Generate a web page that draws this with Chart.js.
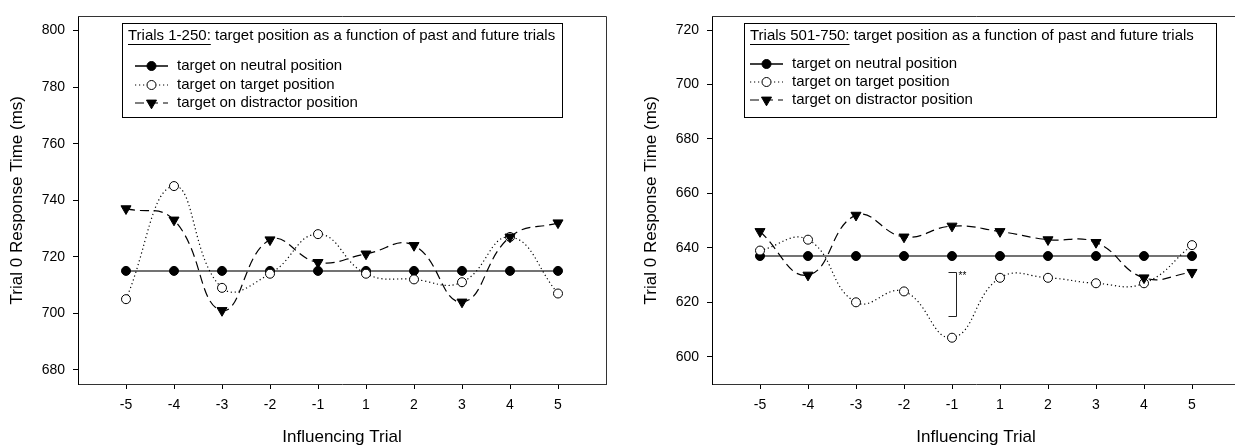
<!DOCTYPE html>
<html>
<head>
<meta charset="utf-8">
<script src="https://cdn.jsdelivr.net/npm/chart.js@4.4.1/dist/chart.umd.min.js"></script>
<style>
  html, body { margin: 0; padding: 0; background: #fff; overflow: hidden; width: 1235px; height: 446px; }
  .panel { position: absolute; top: 0; width: 615px; height: 446px; }
  #left { left: 0; }
  #right { left: 634px; }
</style>
</head>
<body>
<div class="panel" id="left"><canvas id="chartLeft" width="615" height="446"></canvas></div>
<div class="panel" id="right"><canvas id="chartRight" width="615" height="446"></canvas></div>
<script>
// x categories (influencing trial)
const trials = ['-5', '-4', '-3', '-2', '-1', '1', '2', '3', '4', '5'];
const seriesNames = ['target on neutral position', 'target on target position', 'target on distractor position'];

// Trials 1-250
const earlyNeutral = [715, 715, 715, 715, 715, 715, 715, 715, 715, 715];
const earlyTarget = [705, 745, 709, 714, 728, 714, 712, 711, 727, 707];
const earlyDistractor = [737, 733, 701, 726, 718, 721, 724, 704, 727, 732];
const earlyTicks = [680, 700, 720, 740, 760, 780, 800];

// Trials 501-750
const lateNeutral = [637, 637, 637, 637, 637, 637, 637, 637, 637, 637];
const lateTarget = [639, 643, 620, 624, 607, 629, 629, 627, 627, 641];
const lateDistractor = [646, 630, 652, 644, 648, 646, 643, 642, 629, 631];
const lateTicks = [600, 620, 640, 660, 680, 700, 720];

// significance bracket (late panel, at trial -1)
const sigTrial = '-1';
const sigRange = [615, 631];

const FONT = '"Liberation Sans", Arial, Helvetica, sans-serif';

function makeDatasets(neutral, target, distractor) {
    const pts = arr => arr.map((v, i) => ({ x: i, y: v }));
    return [{
        label: seriesNames[0],
        data: pts(neutral),
        borderColor: '#444',
        borderWidth: 1.5,
        pointStyle: 'circle',
        pointRadius: 4.5,
        pointBackgroundColor: '#000',
        pointBorderColor: '#000',
        pointBorderWidth: 1,
        tension: 0,
        order: 3
    }, {
        label: seriesNames[1],
        data: pts(target),
        borderColor: '#000',
        borderWidth: 1.2,
        borderDash: [1.2, 2.8],
        pointStyle: 'circle',
        pointRadius: 4.5,
        pointBackgroundColor: '#fff',
        pointBorderColor: '#000',
        pointBorderWidth: 1,
        tension: 0.45,
        order: 2
    }, {
        label: seriesNames[2],
        data: pts(distractor),
        borderColor: '#000',
        borderWidth: 1.2,
        borderDash: [9, 5],
        pointStyle: 'triangle',
        rotation: 180,
        pointRadius: 5.8,
        pointBackgroundColor: '#000',
        pointBorderColor: '#000',
        pointBorderWidth: 1,
        tension: 0.45,
        order: 1
    }];
}

// top and right edges of the frame
const frameEdges = {
    id: 'frameEdges',
    afterDraw(chart) {
        const { ctx, chartArea } = chart;
        ctx.save();
        ctx.strokeStyle = '#333';
        ctx.lineWidth = 1;
        ctx.beginPath();
        ctx.moveTo(Math.round(chartArea.left), Math.round(chartArea.top) + 0.5);
        ctx.lineTo(Math.round(chartArea.right) + 0.5, Math.round(chartArea.top) + 0.5);
        ctx.lineTo(Math.round(chartArea.right) + 0.5, Math.round(chartArea.bottom));
        ctx.stroke();
        ctx.restore();
    }
};

// boxed legend with underlined title
const legendBox = {
    id: 'legendBox',
    afterDraw(chart, args, opts) {
        const { ctx, chartArea } = chart;
        const x = Math.round(chartArea.left + opts.dx);
        const y = Math.round(chartArea.top + opts.dy);
        ctx.save();
        ctx.fillStyle = '#fff';
        ctx.fillRect(x, y, opts.width, opts.height);
        ctx.strokeStyle = '#000';
        ctx.lineWidth = 1;
        ctx.strokeRect(x + 0.5, y + 0.5, opts.width, opts.height);

        ctx.font = '15px ' + FONT;
        ctx.fillStyle = '#000';
        ctx.textBaseline = 'middle';
        ctx.textAlign = 'left';
        const tx = x + opts.titleX;
        const ty = y + opts.titleY;
        ctx.fillText(opts.titleLead, tx, ty);
        const lw = ctx.measureText(opts.titleLead).width;
        ctx.beginPath();
        ctx.moveTo(tx, Math.round(ty + 8) + 0.5);
        ctx.lineTo(tx + lw, Math.round(ty + 8) + 0.5);
        ctx.stroke();
        ctx.fillText(' ' + opts.titleRest, tx + lw, ty);

        chart.data.datasets.forEach((ds, i) => {
            const ry = y + opts.rowY[i];
            ctx.save();
            ctx.strokeStyle = i === 0 ? '#000' : ds.borderColor;
            ctx.lineWidth = ds.borderWidth;
            ctx.setLineDash(ds.borderDash || []);
            ctx.beginPath();
            ctx.moveTo(x + opts.lineFrom, ry);
            ctx.lineTo(x + opts.lineTo, ry);
            ctx.stroke();
            ctx.restore();
            ctx.save();
            ctx.fillStyle = ds.pointBackgroundColor;
            ctx.strokeStyle = ds.pointBorderColor;
            ctx.lineWidth = ds.pointBorderWidth;
            Chart.helpers.drawPoint(ctx, {
                pointStyle: ds.pointStyle,
                rotation: ds.rotation || 0,
                radius: ds.pointRadius,
                borderWidth: ds.pointBorderWidth
            }, x + (opts.lineFrom + opts.lineTo) / 2, ry);
            ctx.restore();
            ctx.fillStyle = '#000';
            ctx.fillText(ds.label, x + opts.textX, ry);
        });
        ctx.restore();
    }
};

// significance bracket
const sigMark = {
    id: 'sigMark',
    afterDatasetsDraw(chart, args, opts) {
        if (!opts.show) return;
        const { ctx, scales } = chart;
        const bx = Math.round(scales.x.getPixelForValue(trials.indexOf(sigTrial)) + 4) + 0.5;
        const yTop = Math.round(scales.y.getPixelForValue(sigRange[1])) + 0.5;
        const yBot = Math.round(scales.y.getPixelForValue(sigRange[0])) + 0.5;
        ctx.save();
        ctx.strokeStyle = '#222';
        ctx.lineWidth = 1;
        ctx.beginPath();
        ctx.moveTo(bx - 8, yTop);
        ctx.lineTo(bx, yTop);
        ctx.lineTo(bx, yBot);
        ctx.lineTo(bx - 8, yBot);
        ctx.stroke();
        ctx.fillStyle = '#000';
        ctx.font = '10px ' + FONT;
        ctx.textBaseline = 'middle';
        ctx.fillText('**', bx + 2, yTop + 4);
        ctx.restore();
    }
};

function makeChart(canvasId, datasets, yMin, yMax, yTicks, legendOpts, showSig) {
    return new Chart(document.getElementById(canvasId), {
        type: 'line',
        data: { datasets },
        options: {
            responsive: false,
            animation: false,
            layout: { padding: { top: 14, right: 9, left: 0, bottom: 0 } },
            plugins: {
                legend: { display: false },
                tooltip: { enabled: false },
                legendBox: legendOpts,
                sigMark: { show: showSig }
            },
            scales: {
                x: {
                    type: 'linear',
                    min: -1,
                    max: trials.length,
                    afterBuildTicks: s => { s.ticks = trials.map((t, i) => ({ value: i })); },
                    afterFit: s => { s.height = 62; },
                    grid: { drawOnChartArea: false, drawTicks: true, tickLength: 5, color: '#000' },
                    border: { display: true, color: '#333', width: 1 },
                    ticks: {
                        padding: 8,
                        color: '#000',
                        font: { family: FONT, size: 14 },
                        callback: v => trials[v]
                    },
                    title: {
                        display: true,
                        text: 'Influencing Trial',
                        color: '#000',
                        font: { family: FONT, size: 17, lineHeight: 1 },
                        padding: { top: 0, bottom: 0 }
                    }
                },
                y: {
                    min: yMin,
                    max: yMax,
                    afterBuildTicks: s => { s.ticks = yTicks.map(v => ({ value: v })); },
                    afterFit: s => { s.width = 78; },
                    grid: { drawOnChartArea: false, drawTicks: true, tickLength: 5, color: '#000' },
                    border: { display: true, color: '#000', width: 1 },
                    ticks: {
                        padding: 8,
                        color: '#000',
                        font: { family: FONT, size: 14 }
                    },
                    title: {
                        display: true,
                        text: 'Trial 0 Response Time (ms)',
                        color: '#000',
                        font: { family: FONT, size: 17, lineHeight: 1.2 },
                        padding: { top: 7, bottom: 0 }
                    }
                }
            }
        },
        plugins: [frameEdges, sigMark, legendBox]
    });
}

makeChart('chartLeft', makeDatasets(earlyNeutral, earlyTarget, earlyDistractor), 675, 805, earlyTicks, {
    dx: 44, dy: 7, width: 440, height: 94,
    titleX: 6, titleY: 13, titleLead: 'Trials 1-250:',
    titleRest: 'target position as a function of past and future trials',
    rowY: [43, 62, 80], lineFrom: 13, lineTo: 46, textX: 55
}, false);

makeChart('chartRight', makeDatasets(lateNeutral, lateTarget, lateDistractor), 590, 725, lateTicks, {
    dx: 32, dy: 7, width: 472, height: 94,
    titleX: 6, titleY: 13, titleLead: 'Trials 501-750:',
    titleRest: 'target position as a function of past and future trials',
    rowY: [41, 59, 77], lineFrom: 6, lineTo: 39, textX: 48
}, true);
</script>
</body>
</html>
